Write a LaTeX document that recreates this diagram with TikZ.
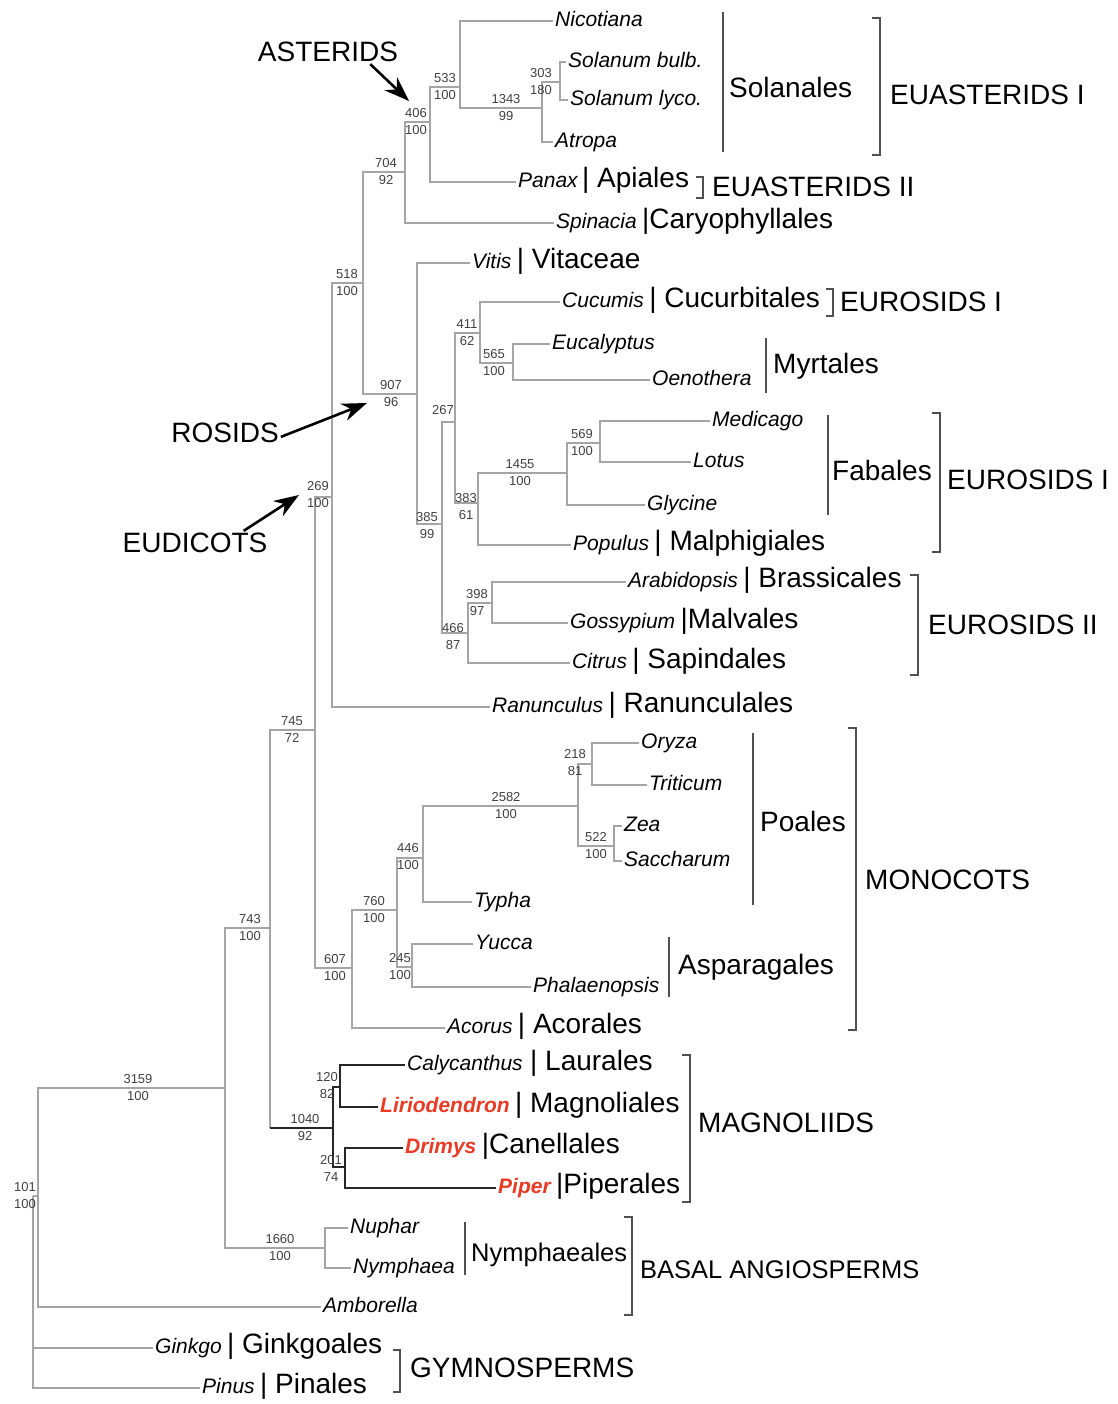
\documentclass[tikz,border=0pt]{standalone}
\usepackage{fontspec}
\setmainfont{Liberation Sans}
\usetikzlibrary{arrows.meta}
\usetikzlibrary{positioning}
\definecolor{branchgray}{RGB}{165,165,165}
\definecolor{bargray}{RGB}{80,80,80}
\definecolor{magred}{RGB}{232,58,36}
\tikzstyle{br}=[draw=branchgray,line width=1.8pt]
\tikzstyle{mbr}=[draw=black!85,line width=2.6pt]
\tikzstyle{taxon}=[anchor=west,inner sep=2pt,font=\fontsize{21}{24}\selectfont\itshape,text height=15pt,text depth=4pt]
\tikzstyle{redtaxon}=[taxon,text=magred,font=\fontsize{21}{24}\selectfont\bfseries\itshape]
\tikzstyle{ord}=[inner sep=2pt,font=\fontsize{28}{32}\selectfont]
\tikzstyle{clade}=[anchor=west,inner sep=2pt,font=\fontsize{28}{32}\selectfont]
\tikzstyle{num}=[align=center,inner sep=0pt,text=black!75,font=\fontsize{13}{17}\selectfont]
\tikzstyle{grp}=[draw=bargray,line width=1.6pt]
\tikzstyle{arr}=[-{Stealth[length=25pt,width=18pt]},draw=black,line width=2.6pt]

\begin{document}
\begin{tikzpicture}[x=1pt,y=-1pt]
  \useasboundingbox (0,0) rectangle (1117,1404);

  \coordinate (root) at (33,1196);
  \coordinate (n101) at (38,1196);
  \coordinate (n3159) at (225,1088);
  \coordinate (n1660) at (325,1248);
  \coordinate (n743) at (270,928);
  \coordinate (n1040) at (333,1128);
  \coordinate (n120) at (340,1087);
  \coordinate (n201) at (345,1167);
  \coordinate (n745) at (315,730);
  \coordinate (n269) at (332,497);
  \coordinate (n607) at (352,968);
  \coordinate (n760) at (397,910);
  \coordinate (n245) at (412,967);
  \coordinate (n446) at (423,858);
  \coordinate (n2582) at (578,806);
  \coordinate (n218) at (592,764);
  \coordinate (n522) at (614,846);
  \coordinate (n518) at (363,283);
  \coordinate (n704) at (405,172);
  \coordinate (n406) at (430,122);
  \coordinate (n533) at (460,87);
  \coordinate (n1343) at (542,108);
  \coordinate (n303) at (560,82);
  \coordinate (n907) at (417,394);
  \coordinate (n385) at (442,524);
  \coordinate (n267) at (455,422);
  \coordinate (n411) at (480,333);
  \coordinate (n565) at (513,363);
  \coordinate (n383) at (478,503);
  \coordinate (n1455) at (567,473);
  \coordinate (n569) at (600,443);
  \coordinate (n466) at (468,633);
  \coordinate (n398) at (492,603);

  \node[taxon] (nicotiana) at (553,21) {Nicotiana};
  \node[taxon] (solbulb) at (566,62) {Solanum bulb.};
  \node[taxon] (sollyco) at (568,100) {Solanum lyco.};
  \node[taxon] (atropa) at (553,142) {Atropa};
  \node[taxon] (panax) at (516,182) {Panax};
  \node[taxon] (spinacia) at (554,223) {Spinacia};
  \node[taxon] (vitis) at (470,263) {Vitis};
  \node[taxon] (cucumis) at (560,302) {Cucumis};
  \node[taxon] (eucalyptus) at (550,344) {Eucalyptus};
  \node[taxon] (oenothera) at (650,380) {Oenothera};
  \node[taxon] (medicago) at (710,421) {Medicago};
  \node[taxon] (lotus) at (691,462) {Lotus};
  \node[taxon] (glycine) at (645,505) {Glycine};
  \node[taxon] (populus) at (571,545) {Populus};
  \node[taxon] (arabidopsis) at (626,582) {Arabidopsis};
  \node[taxon] (gossypium) at (568,623) {Gossypium};
  \node[taxon] (citrus) at (570,663) {Citrus};
  \node[taxon] (ranunculus) at (490,707) {Ranunculus};
  \node[taxon] (oryza) at (639,743) {Oryza};
  \node[taxon] (triticum) at (647,785) {Triticum};
  \node[taxon] (zea) at (622,826) {Zea};
  \node[taxon] (saccharum) at (622,861) {Saccharum};
  \node[taxon] (typha) at (472,902) {Typha};
  \node[taxon] (yucca) at (473,944) {Yucca};
  \node[taxon] (phalaenopsis) at (531,987) {Phalaenopsis};
  \node[taxon] (acorus) at (445,1028) {Acorus};
  \node[taxon] (calycanthus) at (405,1065) {Calycanthus};
  \node[redtaxon] (liriodendron) at (378,1107) {Liriodendron};
  \node[redtaxon] (drimys) at (403,1148) {Drimys};
  \node[redtaxon] (piper) at (496,1188) {Piper};
  \node[taxon] (nuphar) at (348,1228) {Nuphar};
  \node[taxon] (nymphaea) at (351,1268) {Nymphaea};
  \node[taxon] (amborella) at (321,1307) {Amborella};
  \node[taxon] (ginkgo) at (153,1348) {Ginkgo};
  \node[taxon] (pinus) at (200,1388) {Pinus};

  \node[ord,base right=0pt of panax] (apiales) {| Apiales};
  \node[ord,base right=1pt of spinacia] (caryo) {|Caryophyllales};
  \node[ord,base right=1pt of vitis] (vitaceae) {| Vitaceae};
  \node[ord,base right=1pt of cucumis] (cucurb) {| Cucurbitales};
  \node[ord,base right=1pt of populus] (malphig) {| Malphigiales};
  \node[ord,base right=1pt of arabidopsis] (brassic) {| Brassicales};
  \node[ord,base right=1pt of gossypium] (malvales) {|Malvales};
  \node[ord,base right=1pt of citrus] (sapind) {| Sapindales};
  \node[ord,base right=1pt of ranunculus] (ranuncul) {| Ranunculales};
  \node[ord,base right=1pt of acorus] (acorales) {| Acorales};
  \node[ord,base right=3pt of calycanthus] (laurales) {| Laurales};
  \node[ord,base right=1pt of liriodendron] (magnol) {| Magnoliales};
  \node[ord,base right=1pt of drimys] (canell) {|Canellales};
  \node[ord,base right=1pt of piper] (piperales) {|Piperales};
  \node[ord,base right=1pt of ginkgo] (ginkgoales) {| Ginkgoales};
  \node[ord,base right=1pt of pinus] (pinales) {| Pinales};

  \draw[br] (root) |- (n101) (root) |- (ginkgo.west) (root) |- (pinus.west);
  \draw[br] (n101) |- (n3159) (n101) |- (amborella.west);
  \draw[br] (n3159) |- (n743) (n3159) |- (n1660);
  \draw[br] (n1660) |- (nuphar.west) (n1660) |- (nymphaea.west);
  \draw[br] (n743) |- (n745) (n743) -- (n743 |- n1040);
  \draw[mbr] (n743 |- n1040) -- (n1040);
  \draw[mbr] (n1040) |- (n120) (n1040) |- (n201);
  \draw[mbr] (n120) |- (calycanthus.west) (n120) |- (liriodendron.west);
  \draw[mbr] (n201) |- (drimys.west) (n201) |- (piper.west);
  \draw[br] (n745) |- (n269) (n745) |- (n607);
  \draw[br] (n607) |- (n760) (n607) |- (acorus.west);
  \draw[br] (n760) |- (n446) (n760) |- (n245);
  \draw[br] (n245) |- (yucca.west) (n245) |- (phalaenopsis.west);
  \draw[br] (n446) |- (n2582) (n446) |- (typha.west);
  \draw[br] (n2582) |- (n218) (n2582) |- (n522);
  \draw[br] (n218) |- (oryza.west) (n218) |- (triticum.west);
  \draw[br] (n522) |- (zea.west) (n522) |- (saccharum.west);
  \draw[br] (n269) |- (n518) (n269) |- (ranunculus.west);
  \draw[br] (n518) |- (n704) (n518) |- (n907);
  \draw[br] (n704) |- (n406) (n704) |- (spinacia.west);
  \draw[br] (n406) |- (n533) (n406) |- (panax.west);
  \draw[br] (n533) |- (nicotiana.west) (n533) |- (n1343);
  \draw[br] (n1343) |- (n303) (n1343) |- (atropa.west);
  \draw[br] (n303) |- (solbulb.west) (n303) |- (sollyco.west);
  \draw[br] (n907) |- (vitis.west) (n907) |- (n385);
  \draw[br] (n385) |- (n267) (n385) |- (n466);
  \draw[br] (n267) |- (n411) (n267) |- (n383);
  \draw[br] (n411) |- (cucumis.west) (n411) |- (n565);
  \draw[br] (n565) |- (eucalyptus.west) (n565) |- (oenothera.west);
  \draw[br] (n383) |- (n1455) (n383) |- (populus.west);
  \draw[br] (n1455) |- (n569) (n1455) |- (glycine.west);
  \draw[br] (n569) |- (medicago.west) (n569) |- (lotus.west);
  \draw[br] (n466) |- (n398) (n466) |- (citrus.west);
  \draw[br] (n398) |- (arabidopsis.west) (n398) |- (gossypium.west);

  \node[num] (s101) at (25,1196) {101\\100};
  \node[num] (s3159) at (138,1088) {3159\\100};
  \node[num] (s1660) at (280,1248) {1660\\100};
  \node[num] (s743) at (250,928) {743\\100};
  \node[num] (s1040) at (305,1128) {1040\\92};
  \node[num] (s120) at (327,1086) {120\\82};
  \node[num] (s201) at (331,1168) {201\\74};
  \node[num] (s745) at (292,730) {745\\72};
  \node[num] (s269) at (318,495) {269\\100};
  \node[num] (s607) at (335,968) {607\\100};
  \node[num] (s760) at (374,910) {760\\100};
  \node[num] (s245) at (400,967) {245\\100};
  \node[num] (s446) at (408,857) {446\\100};
  \node[num] (s2582) at (506,806) {2582\\100};
  \node[num] (s218) at (575,763) {218\\81};
  \node[num] (s522) at (596,846) {522\\100};
  \node[num] (s518) at (347,283) {518\\100};
  \node[num] (s704) at (386,172) {704\\92};
  \node[num] (s406) at (416,122) {406\\100};
  \node[num] (s533) at (445,87) {533\\100};
  \node[num] (s1343) at (506,108) {1343\\99};
  \node[num] (s303) at (541,82) {303\\180};
  \node[num] (s907) at (391,394) {907\\96};
  \node[num] (s385) at (427,526) {385\\99};
  \node[num] (s267) at (443,410) {267};
  \node[num] (s411) at (467,333) {411\\62};
  \node[num] (s565) at (494,363) {565\\100};
  \node[num] (s383) at (466,507) {383\\61};
  \node[num] (s1455) at (520,473) {1455\\100};
  \node[num] (s569) at (582,443) {569\\100};
  \node[num] (s466) at (453,637) {466\\87};
  \node[num] (s398) at (477,603) {398\\97};

  \draw[grp] (723,12) -- (723,152);
  \node[clade] (solanales) at (727,87) {Solanales};
  \draw[grp] (872,18) -| (880,155) -- (872,155);
  \node[clade] (euast1) at (888,95) {EUASTERIDS I};
  \draw[grp] (696,177) -| (703,198) -- (696,198);
  \node[clade] (euast2) at (710,187) {EUASTERIDS II};
  \draw[grp] (826,289) -| (833,316) -- (826,316);
  \node[clade] (euros1a) at (838,302) {EUROSIDS I};
  \draw[grp] (766,338) -- (766,393);
  \node[clade] (myrtales) at (771,366) {Myrtales};
  \draw[grp] (828,415) -- (828,515);
  \node[clade] (fabales) at (830,470) {Fabales};
  \draw[grp] (932,413) -| (940,552) -- (932,552);
  \node[clade] (euros1b) at (945,480) {EUROSIDS I};
  \draw[grp] (910,575) -| (918,675) -- (910,675);
  \node[clade] (euros2) at (926,625) {EUROSIDS II};
  \draw[grp] (753,733) -- (753,905);
  \node[clade] (poales) at (758,821) {Poales};
  \draw[grp] (669,937) -- (669,997);
  \node[clade] (asparag) at (676,967) {Asparagales};
  \draw[grp] (848,728) -| (856,1030) -- (848,1030);
  \node[clade] (monocots) at (863,880) {MONOCOTS};
  \draw[grp] (682,1055) -| (690,1202) -- (682,1202);
  \node[clade] (magnoliids) at (696,1123) {MAGNOLIIDS};
  \draw[grp] (465,1222) -- (465,1275);
  \node[clade,font=\fontsize{25.5}{30}\selectfont] (nymphaeales) at (469,1255) {Nymphaeales};
  \draw[grp] (624,1217) -| (632,1315) -- (624,1315);
  \node[clade,font=\fontsize{25.5}{30}\selectfont] (basal) at (638,1270) {BASAL ANGIOSPERMS};
  \draw[grp] (393,1350) -| (400,1392) -- (393,1392);
  \node[clade] (gymno) at (408,1368) {GYMNOSPERMS};

  \node[ord] (asterids) at (328,52) {ASTERIDS};
  \node[ord] (rosids) at (225,433) {ROSIDS};
  \node[ord] (eudicots) at (195,543) {EUDICOTS};
  \coordinate (asttip) at (409,101);
  \coordinate (rostip) at (367,403);
  \coordinate (eudtip) at (299,495);
  \draw[arr] (asterids.-16) -- (asttip);
  \draw[arr] (rosids.-4) -- (rostip);
  \draw[arr] (eudicots.14) -- (eudtip);
\end{tikzpicture}
\end{document}
